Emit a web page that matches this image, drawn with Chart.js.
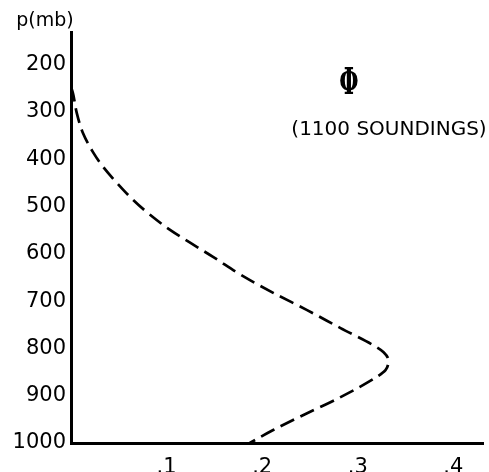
<!DOCTYPE html>
<html>
<head>
<meta charset="utf-8">
<script src="https://cdn.jsdelivr.net/npm/chart.js@4/dist/chart.umd.min.js"></script>
<style>
  html, body { margin: 0; padding: 0; background: #fff; }
  #wrap { width: 489px; height: 472px; position: relative; }
</style>
</head>
<body>
<div id="wrap"><canvas id="c" width="489" height="472"></canvas></div>
<script>
// Data (pressure in mb, fractional value)
const pressure = [247, 260, 302, 345, 385, 416, 450, 486, 518, 550, 577, 607, 645, 683, 719, 757, 793, 808, 825, 846, 860, 903, 937, 972, 1000];
const fraction = [0.0, 0.002, 0.006, 0.0126, 0.023, 0.0335, 0.048, 0.065, 0.083, 0.104, 0.125, 0.149, 0.178, 0.212, 0.247, 0.282, 0.316, 0.327, 0.332, 0.329, 0.320, 0.282, 0.247, 0.212, 0.187];
const yTickValues = [200, 300, 400, 500, 600, 700, 800, 900, 1000];
const xTickValues = [0.1, 0.2, 0.3, 0.4];
const xTickLabels = ['.1', '.2', '.3', '.4'];
const yAxisTitle = 'p(mb)';
const symbolText = 'Φ';
const noteText = '(1100 SOUNDINGS)';

const points = pressure.map((p, i) => ({ x: fraction[i], y: p }));

const textPlugin = {
  id: 'texts',
  afterDraw(chart) {
    const ctx = chart.ctx;
    ctx.save();
    ctx.fillStyle = '#000';
    ctx.textAlign = 'center';
    ctx.textBaseline = 'middle';
    ctx.font = '19px "DejaVu Sans"';
    ctx.fillText(yAxisTitle, 45, 21);
    ctx.font = '20px "DejaVu Sans"';
    ctx.fillText(noteText, 389, 130);
    ctx.translate(349, 84);
    ctx.scale(0.6, 1);
    ctx.font = 'bold 37px "DejaVu Serif"';
    ctx.fillText(symbolText, 0, 0);
    ctx.restore();
  }
};

new Chart(document.getElementById('c'), {
  type: 'line',
  data: {
    datasets: [{
      data: points,
      borderColor: '#000',
      borderWidth: 2.7,
      borderDash: [15, 7],
      pointRadius: 0,
      fill: false,
      cubicInterpolationMode: 'monotone'
    }]
  },
  options: {
    indexAxis: 'y',
    responsive: false,
    animation: false,
    layout: { padding: { top: 32, right: 6, left: 0, bottom: 0 } },
    plugins: { legend: { display: false }, tooltip: { enabled: false } },
    scales: {
      x: {
        type: 'linear',
        min: 0,
        max: 0.431,
        grid: { display: false, drawTicks: false },
        border: { display: true, color: '#000', width: 3 },
        afterBuildTicks(s) { s.ticks = xTickValues.map(v => ({ value: v })); },
        afterFit(s) { s.height = 29; },
        ticks: {
          color: '#000',
          padding: 12,
          font: { family: 'DejaVu Sans', size: 21 },
          callback: (v) => xTickLabels[xTickValues.indexOf(v)] ?? ''
        }
      },
      y: {
        type: 'linear',
        min: 131,
        max: 1000,
        reverse: true,
        grid: { display: false, drawTicks: false },
        border: { display: true, color: '#000', width: 3 },
        afterBuildTicks(s) { s.ticks = yTickValues.map(v => ({ value: v })); },
        afterFit(s) { s.width = 71; },
        ticks: {
          color: '#000',
          padding: 5,
          font: { family: 'DejaVu Sans', size: 21 },
          callback: (v) => String(v)
        }
      }
    }
  },
  plugins: [textPlugin]
});
</script>
</body>
</html>
